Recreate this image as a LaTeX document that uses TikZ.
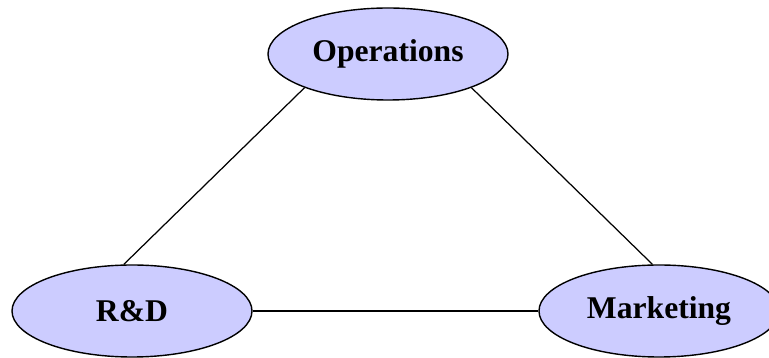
\documentclass[tikz,border=0pt]{standalone}
\usepackage{fontspec}
\setmainfont{Liberation Serif}
\usepackage{tikz}
\usetikzlibrary{shapes.geometric}

\begin{document}
\begin{tikzpicture}[
    func/.style={ellipse, draw, line width=0.8pt, fill={rgb,255:red,204;green,204;blue,255},
      minimum width=4.8cm, minimum height=1.84cm, inner sep=0pt,
      font=\fontsize{18}{20}\selectfont\bfseries},
    link/.style={line width=0.7pt}]
    \useasboundingbox (0,0) rectangle (15.38,7.16);
    \node[func] (ops) at (7.76,6.08) {Operations};
    \node[func] (rnd) at (2.64,0.94) {R\&D};
    \node[func] (mkt) at (13.18,0.94) {Marketing};
    \foreach \From/\To in {ops.202/rnd.100, ops.338/mkt.98, rnd/mkt}
    \draw[link] (\From) -- (\To);
  \end{tikzpicture}
\end{document}
